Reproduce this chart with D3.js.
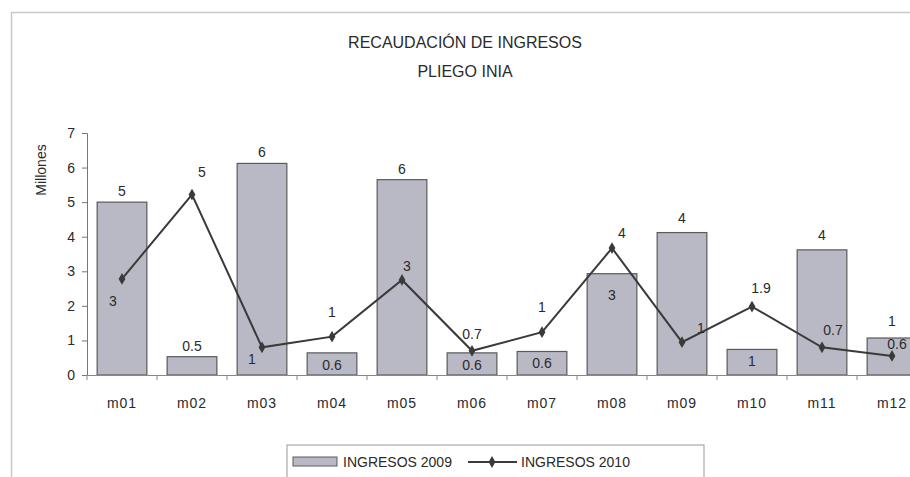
<!DOCTYPE html>
<html lang="es">
<head>
<meta charset="UTF-8"/>
<script src="https://d3js.org/d3.v7.min.js"></script>
<style>
  body { margin: 0; background: #fff; }
  text { font-family: "Liberation Sans", Arial, sans-serif; fill: #2a2a2a; }
</style>
</head>
<body>
<script>
// valores (millones)
var months   = ["m01","m02","m03","m04","m05","m06","m07","m08","m09","m10","m11","m12"];
var ing2009  = [5.0, 0.53, 6.12, 0.64, 5.65, 0.64, 0.68, 2.93, 4.12, 0.74, 3.62, 1.07];
var ing2010  = [2.78, 5.22, 0.80, 1.11, 2.75, 0.70, 1.24, 3.67, 0.95, 1.98, 0.80, 0.55];
var lbl2009  = ["5","0.5","6","0.6","6","0.6","0.6","3","4","1","4","1"];
var lbl2010  = ["3","5","1","1","3","0.7","1","4","1","1.9","0.7","0.6"];
var yTicks   = [0,1,2,3,4,5,6,7];

// where the labels sit (layout only): dx, dy from the mark
var barLblOff  = [[0,-6],[0,-6],[0,-6],[0,17],[0,-6],[0,17],[0,17],[0,26],[0,-10],[0,17],[0,-10],[0,-12]];
var lineLblOff = [[-9,27],[10,-18],[-10,17],[0,-20],[5,-9],[0,-12],[0,-20],[10,-10],[19,-9],[9,-14],[11,-12],[5,-7]];

var w = 910, h = 477;
var svg = d3.select("body").append("svg").attr("width", w).attr("height", h);

// marco
svg.append("path")
   .attr("d", "M11.5," + h + "V12.5H" + w)
   .attr("fill", "none").attr("stroke", "#c8c8c8").attr("stroke-width", 1.5);

svg.append("text").attr("x", 465).attr("y", 48).attr("text-anchor", "middle")
   .style("font-size", "16px").text("RECAUDACIÓN DE INGRESOS");
svg.append("text").attr("x", 465).attr("y", 77).attr("text-anchor", "middle")
   .style("font-size", "16px").text("PLIEGO INIA");

var x = d3.scaleBand().domain(months).range([87, 927]).paddingInner(0.29).paddingOuter(0.145);
var y = d3.scaleLinear().domain([0, 7]).range([375, 133]);

// eje y
var yAxis = d3.axisLeft(y).tickValues(yTicks).tickSize(5).tickFormat(d3.format("d"));
var gy = svg.append("g").attr("transform", "translate(87,0)").call(yAxis);
gy.select(".domain").attr("stroke", "#777");
gy.selectAll(".tick line").attr("stroke", "#777");
gy.selectAll(".tick text").attr("x", -12)
  .style("font-size", "14px").style("font-family", "Liberation Sans, Arial").style("fill", "#2a2a2a");

svg.append("text").attr("transform", "translate(46,170) rotate(-90)")
   .attr("text-anchor", "middle").style("font-size", "14px").text("Millones");

// barras 2009
svg.selectAll("rect.bar").data(ing2009).enter().append("rect")
   .attr("class", "bar")
   .attr("x", function(d, i) { return x(months[i]); })
   .attr("y", function(d) { return y(d); })
   .attr("width", x.bandwidth())
   .attr("height", function(d) { return y(0) - y(d); })
   .attr("fill", "#b9b9c6").attr("stroke", "#5a5a5a").attr("stroke-width", 1.2);

// eje x
var xAxis = d3.axisBottom(x).tickSize(0).tickPadding(23);
var gx = svg.append("g").attr("transform", "translate(0,375)").call(xAxis);
gx.select(".domain").attr("stroke", "#888");
gx.selectAll(".tick text").style("font-size", "14px").style("letter-spacing", "1px")
  .style("font-family", "Liberation Sans, Arial").style("fill", "#2a2a2a");
var step = x.step();
svg.selectAll("line.sep").data(months).enter().append("line")
   .attr("class", "sep")
   .attr("x1", function(d) { return x(d) - x.paddingInner() * step / 2; })
   .attr("x2", function(d) { return x(d) - x.paddingInner() * step / 2; })
   .attr("y1", 375).attr("y2", 380).attr("stroke", "#888");

svg.selectAll("text.bl").data(lbl2009).enter().append("text")
   .attr("class", "bl").attr("text-anchor", "middle").style("font-size", "14px")
   .attr("x", function(d, i) { return x(months[i]) + x.bandwidth() / 2 + barLblOff[i][0]; })
   .attr("y", function(d, i) { return y(ing2009[i]) + barLblOff[i][1]; })
   .text(function(d) { return d; });

// linea 2010
var cx = function(i) { return x(months[i]) + x.bandwidth() / 2; };
var line = d3.line().x(function(d, i) { return cx(i); }).y(function(d) { return y(d); });
svg.append("path").datum(ing2010).attr("d", line)
   .attr("fill", "none").attr("stroke", "#3a3a3a").attr("stroke-width", 2);
svg.selectAll("path.mk").data(ing2010).enter().append("path")
   .attr("class", "mk")
   .attr("d", d3.symbol().type(d3.symbolDiamond).size(40))
   .attr("transform", function(d, i) { return "translate(" + cx(i) + "," + y(d) + ")"; })
   .attr("fill", "#3a3a3a");

svg.selectAll("text.ll").data(lbl2010).enter().append("text")
   .attr("class", "ll").attr("text-anchor", "middle").style("font-size", "14px")
   .attr("x", function(d, i) { return cx(i) + lineLblOff[i][0]; })
   .attr("y", function(d, i) { return y(ing2010[i]) + lineLblOff[i][1]; })
   .text(function(d) { return d; });

// leyenda
var lg = svg.append("g").attr("transform", "translate(287,445)");
lg.append("rect").attr("x", 0).attr("y", 0).attr("width", 417).attr("height", 40)
  .attr("fill", "#fff").attr("stroke", "#999");
lg.append("rect").attr("x", 6).attr("y", 12).attr("width", 44).attr("height", 9)
  .attr("fill", "#b9b9c6").attr("stroke", "#5a5a5a");
lg.append("text").attr("x", 56).attr("y", 22).style("font-size", "14px").text("INGRESOS 2009");
lg.append("line").attr("x1", 181).attr("x2", 230).attr("y1", 17).attr("y2", 17)
  .attr("stroke", "#3a3a3a").attr("stroke-width", 2);
lg.append("path").attr("d", d3.symbol().type(d3.symbolDiamond).size(40))
  .attr("transform", "translate(205,17)").attr("fill", "#3a3a3a");
lg.append("text").attr("x", 234).attr("y", 22).style("font-size", "14px").text("INGRESOS 2010");
</script>
</body>
</html>
